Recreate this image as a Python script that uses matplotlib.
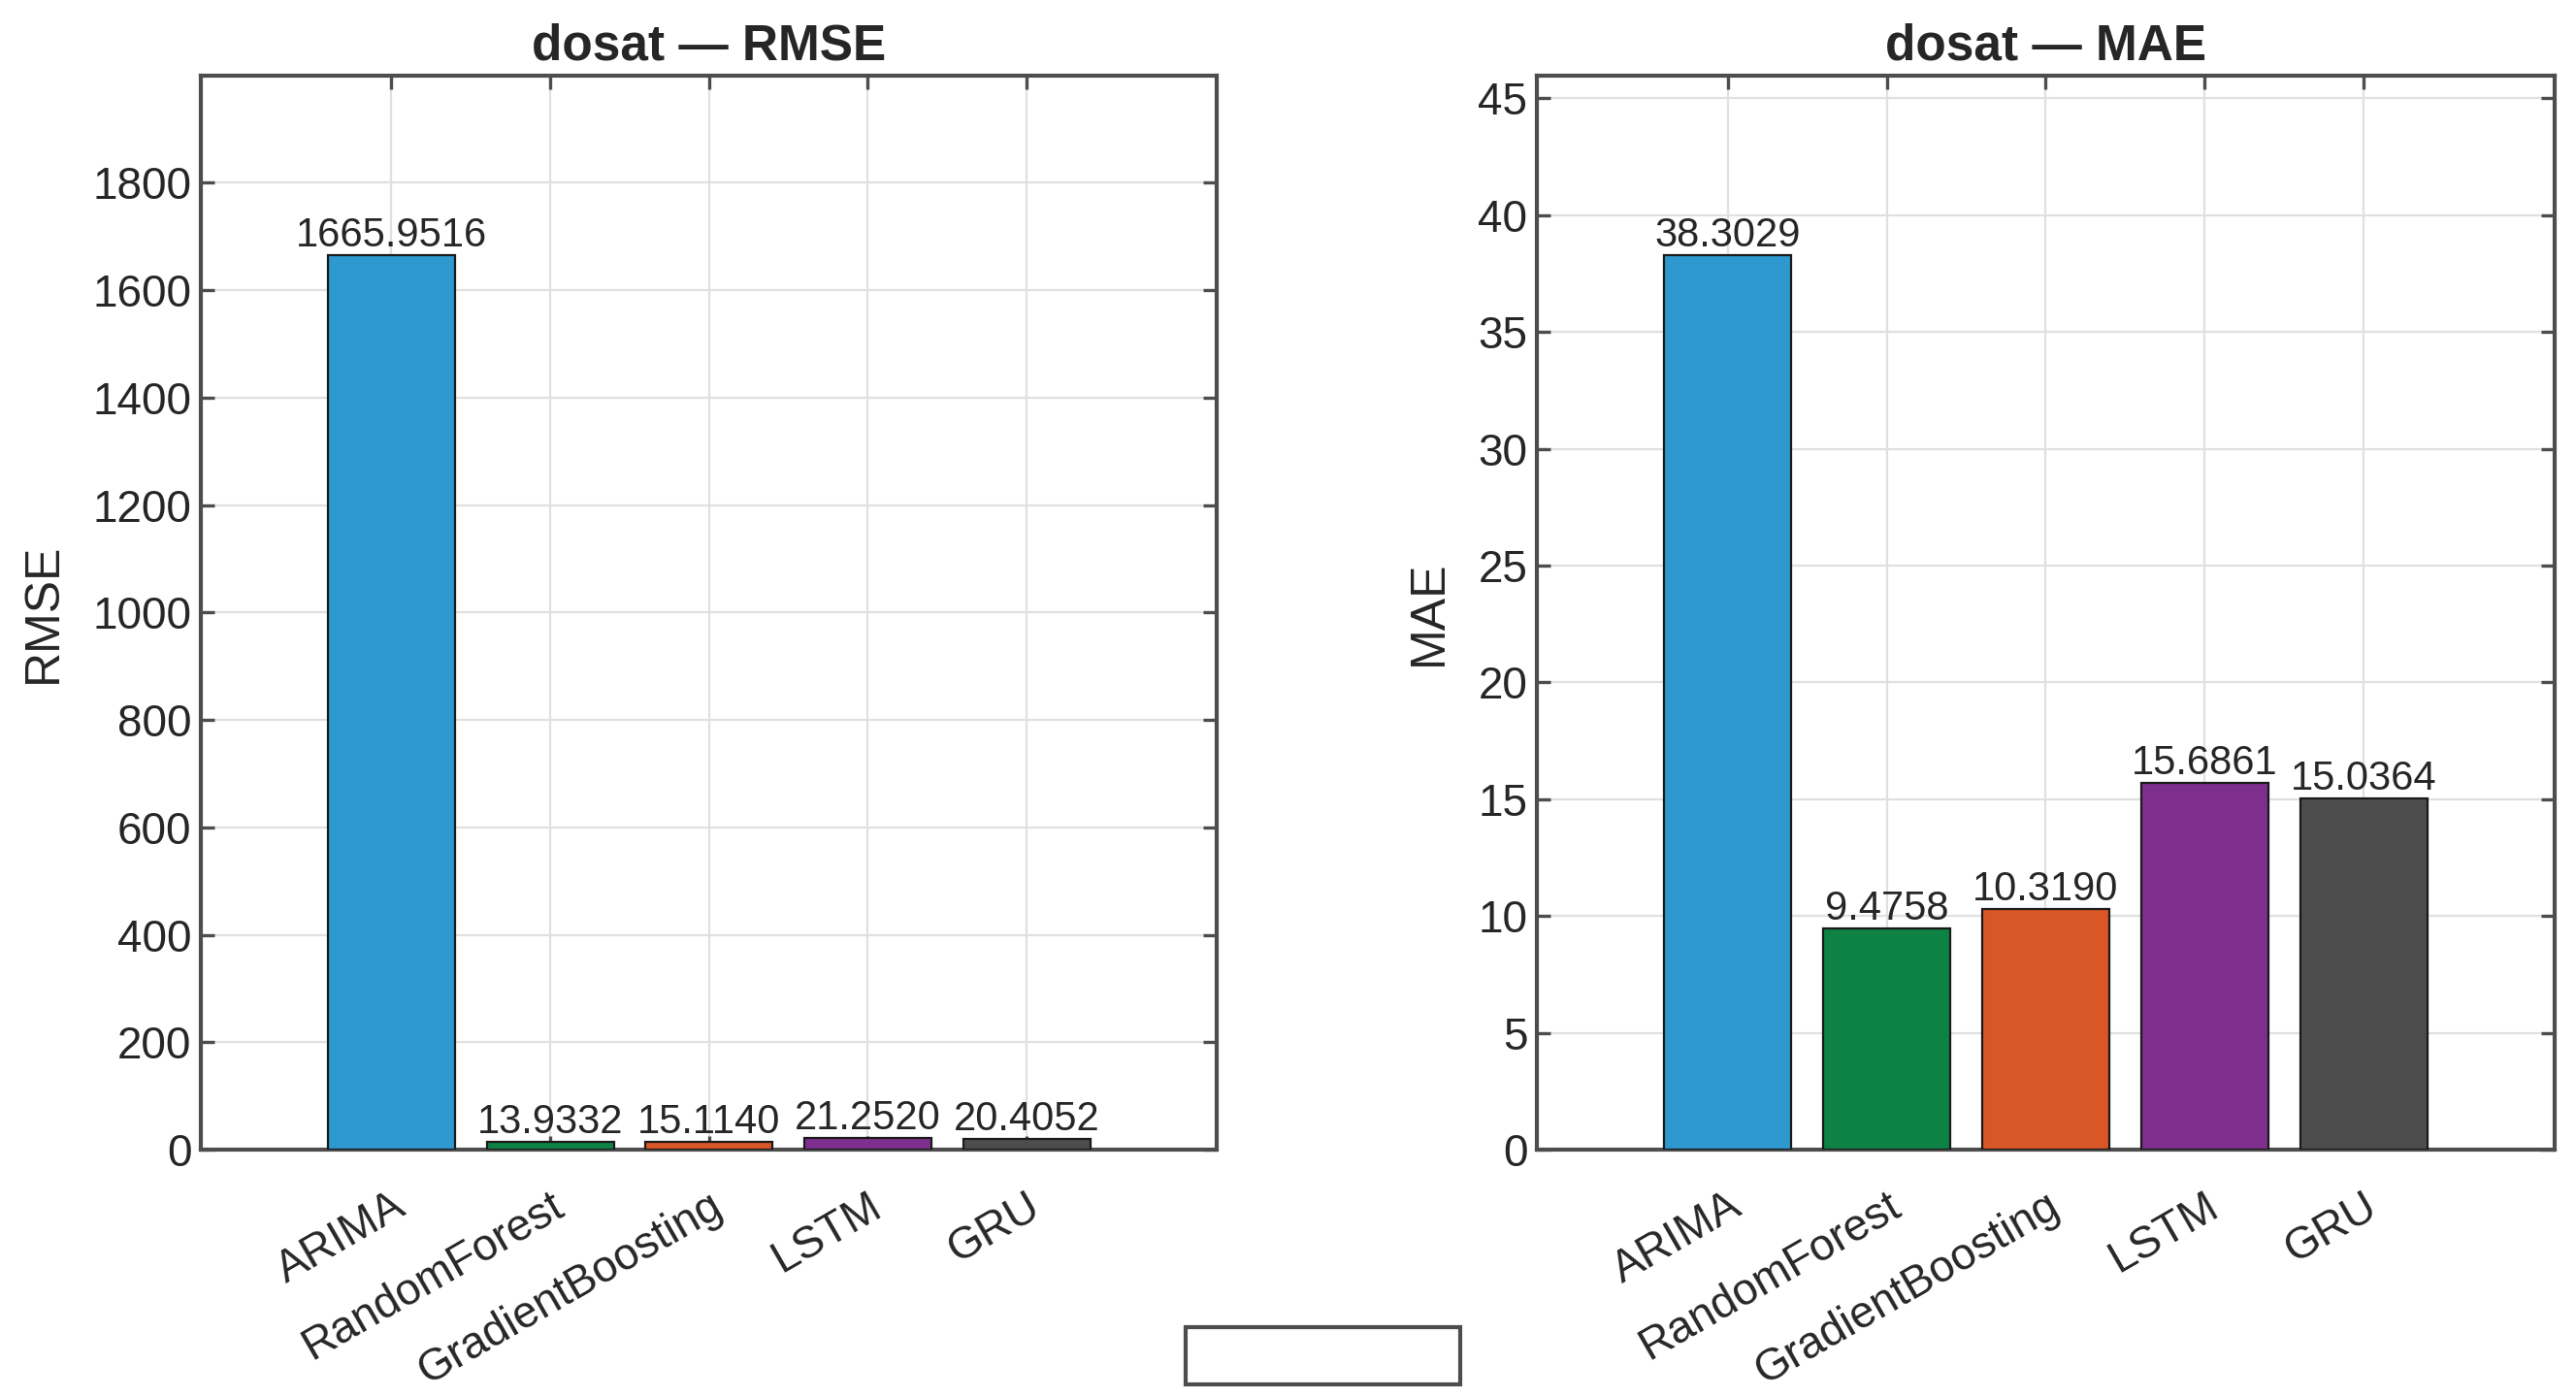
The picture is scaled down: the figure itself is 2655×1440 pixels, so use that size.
import matplotlib.pyplot as plt
from matplotlib.patches import Rectangle

# data
models = ['ARIMA', 'RandomForest', 'GradientBoosting', 'LSTM', 'GRU']
rmse = [1665.9516, 13.9332, 15.1140, 21.2520, 20.4052]
mae = [38.3029, 9.4758, 10.3190, 15.6861, 15.0364]
bar_colors = ['#2E99CE', '#0E8244', '#D95627', '#7E2F8E', '#4D4D4D']
dataset = 'dosat'

plt.rcParams['font.family'] = ['Liberation Sans', 'DejaVu Sans']
txt = '#262626'
axcol = '#4D4D4D'

fig = plt.figure(figsize=(13.275, 7.2), dpi=200)
ax1 = fig.add_axes([0.078, 0.177, 0.3945, 0.7688])
ax2 = fig.add_axes([0.5966, 0.177, 0.3951, 0.7688])

for ax, vals, name in [(ax1, rmse, 'RMSE'), (ax2, mae, 'MAE')]:
    x = list(range(1, len(models) + 1))
    ax.bar(x, vals, width=0.8, color=bar_colors, edgecolor='#1a1a1a',
           linewidth=0.8, zorder=3)
    for xi, v in zip(x, vals):
        ax.text(xi, v, f'{v:.4f}', ha='center', va='bottom',
                fontsize=15, color=txt, zorder=4)
    ax.set_xlim(-0.2, len(models) + 1.2)
    ax.set_ylim(0, max(vals) * 1.2)
    ax.set_xticks(x)
    ax.set_xticklabels(models, rotation=30, ha='right', va='top',
                       rotation_mode='anchor', fontsize=16.5, color=txt)
    ax.tick_params(axis='x', pad=13)
    ax.tick_params(axis='y', labelsize=16.5, labelcolor=txt)
    ax.tick_params(direction='in', length=5, width=1.2, color=axcol,
                   top=True, right=True)
    ax.grid(True, color='#e0e0e0', linewidth=0.8, zorder=0)
    ax.set_axisbelow(True)
    for sp in ax.spines.values():
        sp.set_color(axcol)
        sp.set_linewidth(1.5)
    ax.set_ylabel(name, fontsize=18, color=txt, labelpad=10)
    ax.set_title(f'{dataset} — {name}', fontsize=18.5, fontweight='bold',
                 color=txt, pad=6)

ax1.set_yticks(range(0, 2000, 200))
ax2.set_yticks(range(0, 50, 5))

# empty legend box at the bottom
fig.patches.append(Rectangle((0.4603, 0.009), 0.1066, 0.041,
                             transform=fig.transFigure, fill=False,
                             edgecolor=axcol, linewidth=1.5))

fig.savefig('out.png', dpi=200, facecolor='white')
